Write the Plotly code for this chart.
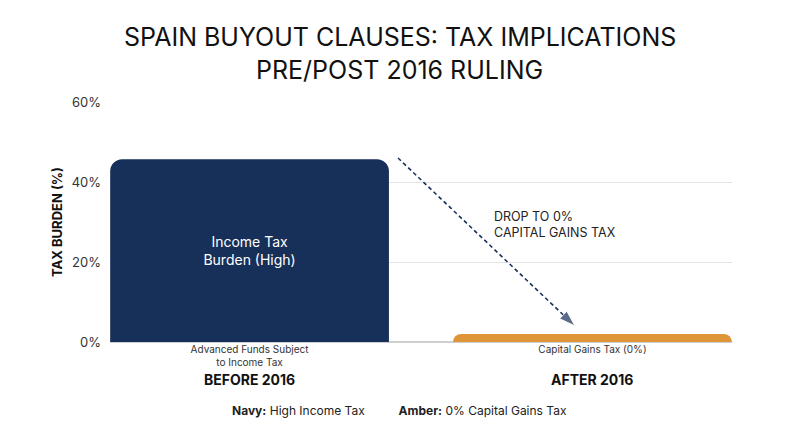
import plotly.graph_objects as go

# data
categories = ["Advanced Funds Subject<br>to Income Tax", "Capital Gains Tax (0%)"]
tax_burden = [45.7, 2]
bar_text = ["Income Tax<br>Burden (High)", ""]
bar_colors = ["#17305a", "#de9537"]
periods = ["BEFORE 2016", "AFTER 2016"]
y_ticks = [0, 20, 40, 60]
y_tick_labels = ["0%", "20%", "40%", "60%"]
arrow_x = [0.433, 0.949]
arrow_y = [46, 4]
title_lines = ["SPAIN BUYOUT CLAUSES: TAX IMPLICATIONS", "PRE/POST 2016 RULING"]

FONT = "Inter, Lato, sans-serif"
NAVY = "#17305a"

fig = go.Figure()

fig.add_trace(
    go.Bar(
        x=[0, 1],
        y=tax_burden,
        marker=dict(color=bar_colors, line=dict(width=0)),
        text=bar_text,
        textposition="inside",
        insidetextanchor="middle",
        textfont=dict(color="white", size=14, family=FONT),
        hoverinfo="skip",
        showlegend=False,
    )
)

# dashed drop arrow
fig.add_trace(
    go.Scatter(
        x=arrow_x,
        y=arrow_y,
        mode="lines+markers",
        line=dict(color=NAVY, width=1.6, dash="4px,3px"),
        marker=dict(
            symbol=["circle", "arrow"],
            size=[0, 17],
            angleref="previous",
            color=NAVY,
        ),
        hoverinfo="skip",
        showlegend=False,
    )
)

fig.add_annotation(
    x=0.707, y=29.4, xref="x", yref="y",
    text="DROP TO 0%<br>CAPITAL GAINS TAX",
    showarrow=False, xanchor="left", align="left",
    font=dict(size=12.5, color="#222", family=FONT),
)

# title, one annotation per line
for line, ypos in zip(title_lines, [1.271, 1.133]):
    fig.add_annotation(
        x=0.466, y=ypos, xref="paper", yref="paper",
        xanchor="center", yanchor="middle",
        text=line, showarrow=False,
        font=dict(size=25, color="#111", family=FONT),
    )

for i, p in enumerate(periods):
    fig.add_annotation(
        x=i, y=-0.2, xref="x", yref="paper",
        text=f"<b>{p}</b>", showarrow=False,
        font=dict(size=14, color="#111", family=FONT),
    )

fig.add_annotation(
    x=0.466, y=-0.325, xref="paper", yref="paper", xanchor="center",
    text="<b>Navy:</b> High Income Tax          <b>Amber:</b> 0% Capital Gains Tax",
    showarrow=False,
    font=dict(size=12, color="#222", family=FONT),
)

fig.update_layout(
    width=792,
    height=439,
    margin=dict(l=102, r=68, t=94, b=105),
    paper_bgcolor="white",
    plot_bgcolor="white",
    bargap=0.187,
    barcornerradius=12,
    font=dict(family=FONT),
)

fig.update_xaxes(
    range=[-0.407, 1.407],
    tickvals=[0, 1],
    ticktext=categories,
    tickfont=dict(size=10, color="#333"),
    showgrid=False,
    zeroline=False,
    showline=False,
    ticks="",
)
fig.update_yaxes(
    range=[0, 60],
    tickvals=y_ticks,
    ticktext=y_tick_labels,
    tickfont=dict(size=13, color="#333"),
    ticklabelstandoff=8,
    showgrid=True,
    gridcolor="#e3e3e3",
    gridwidth=1,
    zeroline=True,
    zerolinecolor="#cfcfcf",
    zerolinewidth=1.5,
    title=dict(text="<b>TAX BURDEN (%)</b>", font=dict(size=13, color="#111"), standoff=6),
)

fig.write_html("out.html")
